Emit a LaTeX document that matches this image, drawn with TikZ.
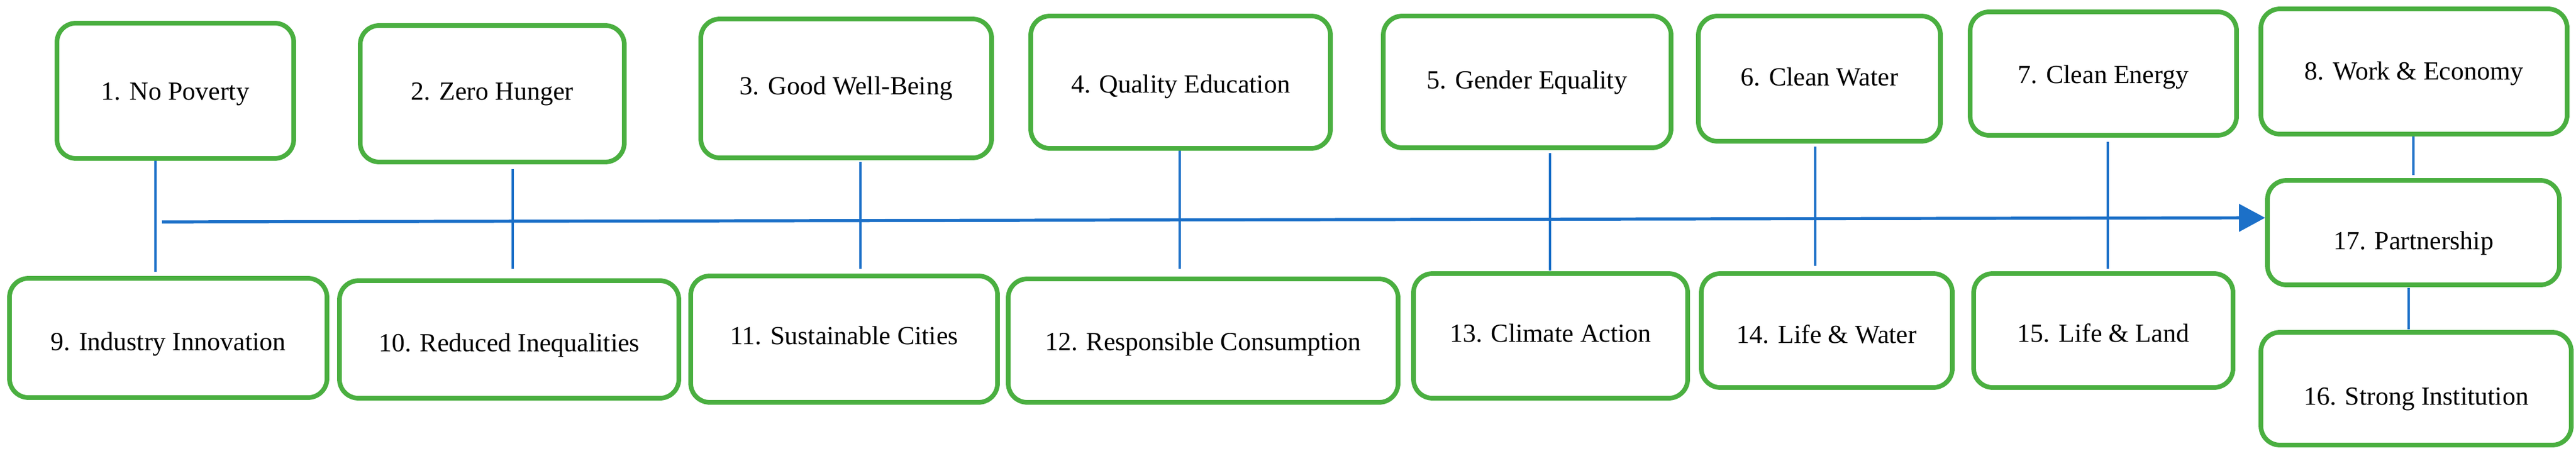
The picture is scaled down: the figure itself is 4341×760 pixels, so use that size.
\documentclass[tikz,border=0pt]{standalone}
\usepackage{fontspec}
\setmainfont{Liberation Serif}
\usetikzlibrary{arrows.meta}
\definecolor{boxgreen}{RGB}{74,175,64}
\definecolor{lineblue}{RGB}{28,112,200}
\begin{document}
\begin{tikzpicture}[x=0.5pt,y=-0.5pt,
  goal/.style={draw=boxgreen, line width=3.9pt, rounded corners=16pt, fill=white,
    align=center, inner sep=0pt, text depth=5.5pt, text height=18.7pt,
    font=\fontsize{22pt}{26pt}\selectfont},
  vline/.style={draw=lineblue, line width=2.2pt},
  mainline/.style={draw=lineblue, line width=2.6pt, -{Triangle[length=22pt,width=23pt]}}]
\useasboundingbox (0,0) rectangle (4341,760);
% top row
\node[goal, minimum width=199.5pt, minimum height=114pt, text height=20.7pt]   (g1) at (295.5,153)  {1. No Poverty};
\node[goal, minimum width=222.5pt, minimum height=115pt, text height=15.7pt]   (g2) at (829.5,158)  {2. Zero Hunger};
\node[goal, minimum width=245pt,   minimum height=117pt, text height=15.7pt]   (g3) at (1426,149)   {3. Good Well-Being};
\node[goal, minimum width=252.5pt, minimum height=111.5pt, text height=23.2pt] (g4) at (1989.5,138.5) {4. Quality Education};
\node[goal, minimum width=242.5pt, minimum height=111pt, text height=16.7pt]   (g5) at (2573.5,138) {5. Gender Equality};
\node[goal, minimum width=204pt,   minimum height=105.5pt, text height=17.2pt] (g6) at (3066,132.5) {6. Clean Water};
\node[goal, minimum width=224.5pt, minimum height=104pt, text height=21.7pt]   (g7) at (3544.5,124) {7. Clean Energy};
\node[goal, minimum width=258pt,   minimum height=105.5pt, text height=19.2pt] (g8) at (4068,120.5) {8. Work \& Economy};
% bottom row
\node[goal, minimum width=267.5pt, minimum height=100.5pt, text height=26.2pt] (g9)  at (283.5,569.5) {9. Industry Innovation};
\node[goal, minimum width=286pt,   minimum height=99pt, text height=25.7pt]    (g10) at (858,572)     {10. Reduced Inequalities};
\node[goal, minimum width=258.5pt, minimum height=106.5pt, text height=14.2pt] (g11) at (1422.5,571.5) {11. Sustainable Cities};
\node[goal, minimum width=328.5pt, minimum height=104pt, text height=21.7pt]   (g12) at (2027.5,574) {12. Responsible Consumption};
\node[goal, minimum width=231pt,   minimum height=105pt, text height=15.7pt]   (g13) at (2613,566)   {13. Climate Action};
\node[goal, minimum width=211.5pt, minimum height=96pt, text height=26.7pt]    (g14) at (3078.5,557) {14. Life \& Water};
\node[goal, minimum width=218.5pt, minimum height=96pt, text height=24.7pt]    (g15) at (3544.5,557) {15. Life \& Land};
\node[goal, minimum width=261.5pt, minimum height=95pt, text height=32.7pt]    (g16) at (4071.5,655) {16. Strong Institution};
\node[goal, minimum width=246pt,   minimum height=88pt, text height=33.7pt]    (g17) at (4067,392)   {17. Partnership};
% main arrow
\coordinate (start) at (273,374);
\draw[mainline] (start) -- ([yshift=12.5pt]g17.west);
% vertical connectors
\draw[vline, shorten >=3.5pt] (262,0 |- g1.south) -- (262,0 |- g9.north);
\draw[vline, shorten <=4pt, shorten >=8pt] (864,0 |- g2.south) -- (864,0 |- g10.north);
\draw[vline, shorten <=1.5pt, shorten >=4pt] (1450,0 |- g3.south) -- (1450,0 |- g11.north);
\draw[vline, shorten >=6.5pt] (1988,0 |- g4.south) -- (1988,0 |- g12.north);
\draw[vline, shorten <=2.5pt, shorten >=0.5pt] (2612,0 |- g5.south) -- (2612,0 |- g13.north);
\draw[vline, shorten <=2.5pt, shorten >=4.5pt] (3059,0 |- g6.south) -- (3059,0 |- g14.north);
\draw[vline, shorten <=3.5pt, shorten >=2pt] (3552,0 |- g7.south) -- (3552,0 |- g15.north);
\draw[vline, shorten >=2.5pt] (4067,0 |- g8.south) -- (4067,0 |- g17.north);
\draw[vline, shorten <=0.5pt, shorten >=0.5pt] (4059,0 |- g17.south) -- (4059,0 |- g16.north);
\end{tikzpicture}
\end{document}
